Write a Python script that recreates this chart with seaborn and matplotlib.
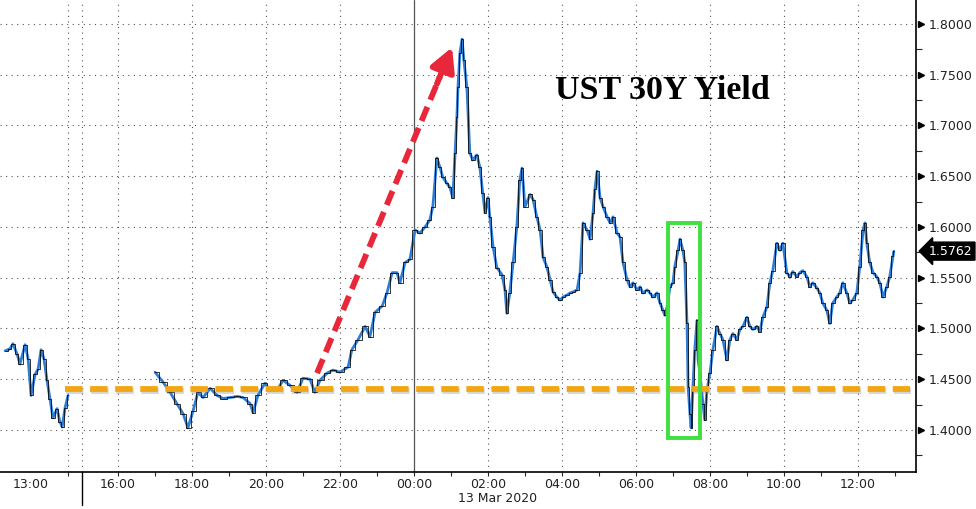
import matplotlib
matplotlib.use("Agg")
import matplotlib.pyplot as plt
import matplotlib.patheffects as pe
from matplotlib.patches import Rectangle
from matplotlib.transforms import blended_transform_factory
import seaborn as sns
import pandas as pd

# --- data ---
# first session on 12 Mar (clock hours), drawn left of the session break
pre_hours = [12.30, 12.43, 12.51, 12.62, 12.70, 12.84, 12.92, 13.00, 13.11, 13.19,
             13.27, 13.35, 13.43, 13.51, 13.59, 13.70, 13.78, 13.84, 13.92, 14.00]
pre_yield = [1.478, 1.480, 1.485, 1.475, 1.465, 1.484, 1.470, 1.434, 1.455, 1.460,
             1.479, 1.470, 1.449, 1.431, 1.412, 1.421, 1.408, 1.403, 1.422, 1.434]

# main session, hours from 00:00 12 Mar (24 = midnight 13 Mar)
main_hours = [17.00, 17.22, 17.41, 17.59, 17.76, 17.89, 18.03, 18.16, 18.30, 18.49,
              18.68, 18.84, 19.03, 19.22, 19.38, 19.57, 19.65, 19.78, 19.97, 20.11,
              20.30, 20.46, 20.65, 20.84, 21.00, 21.19, 21.32, 21.46, 21.65, 21.81,
              22.00, 22.22, 22.32, 22.49, 22.68, 22.81, 22.95, 23.14, 23.27, 23.41,
              23.54, 23.62, 23.76, 23.89, 24.03, 24.16, 24.30, 24.43, 24.51, 24.62,
              24.70, 24.78, 24.89, 24.97, 25.05, 25.11, 25.16, 25.19, 25.24, 25.30,
              25.35, 25.43, 25.51, 25.59, 25.70, 25.78, 25.86, 25.92, 26.00, 26.05,
              26.14, 26.24, 26.38, 26.46, 26.51, 26.59, 26.68, 26.78, 26.86, 26.92,
              27.00, 27.14, 27.22, 27.32, 27.41, 27.49, 27.59, 27.68, 27.76, 27.86,
              27.95, 28.03, 28.14, 28.22, 28.30, 28.41, 28.49, 28.57, 28.68, 28.76,
              28.84, 28.89, 28.95, 29.03, 29.11, 29.22, 29.30, 29.38, 29.49, 29.57,
              29.65, 29.76, 29.84, 29.92, 30.03, 30.11, 30.19, 30.30, 30.38, 30.46,
              30.57, 30.65, 30.73, 30.78, 30.84, 30.92, 31.00, 31.05, 31.14, 31.19,
              31.27, 31.32, 31.38, 31.41, 31.46, 31.49, 31.54, 31.59, 31.65, 31.68,
              31.73, 31.81, 31.86, 31.92, 32.00, 32.08, 32.19, 32.27, 32.35, 32.46,
              32.54, 32.62, 32.73, 32.81, 32.89, 33.00, 33.08, 33.16, 33.27, 33.35,
              33.43, 33.54, 33.62, 33.70, 33.81, 33.89, 33.97, 34.08, 34.16, 34.24,
              34.35, 34.43, 34.51, 34.62, 34.70, 34.78, 34.89, 34.97, 35.05, 35.16,
              35.24, 35.32, 35.43, 35.51, 35.59, 35.70, 35.78, 35.86, 35.97, 36.05,
              36.14, 36.19, 36.24, 36.32, 36.41, 36.51, 36.59, 36.68, 36.78, 36.86,
              36.95, 36.97]
main_yield = [1.457, 1.447, 1.437, 1.426, 1.416, 1.402, 1.419, 1.437, 1.432, 1.441,
              1.434, 1.431, 1.432, 1.433, 1.432, 1.426, 1.417, 1.434, 1.446, 1.439,
              1.439, 1.449, 1.444, 1.437, 1.451, 1.450, 1.437, 1.449, 1.456, 1.459,
              1.457, 1.462, 1.479, 1.489, 1.502, 1.492, 1.516, 1.522, 1.535, 1.555,
              1.555, 1.545, 1.565, 1.568, 1.597, 1.594, 1.600, 1.607, 1.620, 1.668,
              1.659, 1.649, 1.643, 1.639, 1.629, 1.673, 1.708, 1.738, 1.771, 1.785,
              1.764, 1.738, 1.673, 1.666, 1.671, 1.659, 1.633, 1.614, 1.629, 1.610,
              1.580, 1.560, 1.553, 1.538, 1.515, 1.535, 1.565, 1.600, 1.646, 1.658,
              1.620, 1.632, 1.627, 1.610, 1.597, 1.570, 1.561, 1.548, 1.536, 1.531,
              1.528, 1.531, 1.533, 1.535, 1.536, 1.538, 1.555, 1.604, 1.597, 1.588,
              1.614, 1.637, 1.655, 1.629, 1.620, 1.610, 1.604, 1.610, 1.594, 1.590,
              1.565, 1.548, 1.541, 1.545, 1.538, 1.541, 1.535, 1.538, 1.535, 1.531,
              1.535, 1.525, 1.518, 1.513, 1.521, 1.541, 1.545, 1.561, 1.577, 1.588,
              1.577, 1.565, 1.505, 1.442, 1.416, 1.402, 1.442, 1.479, 1.508, 1.469,
              1.456, 1.426, 1.410, 1.439, 1.456, 1.479, 1.502, 1.495, 1.489, 1.469,
              1.489, 1.495, 1.489, 1.499, 1.502, 1.511, 1.502, 1.499, 1.502, 1.497,
              1.511, 1.521, 1.545, 1.557, 1.584, 1.577, 1.584, 1.555, 1.551, 1.556,
              1.551, 1.555, 1.557, 1.551, 1.541, 1.545, 1.540, 1.535, 1.525, 1.518,
              1.505, 1.525, 1.531, 1.535, 1.545, 1.535, 1.525, 1.528, 1.535, 1.561,
              1.597, 1.604, 1.584, 1.565, 1.555, 1.551, 1.545, 1.531, 1.541, 1.551,
              1.571, 1.576]

last_price = 1.5762
support_level = 1.4405

x_ticks = [13.65, 16, 18, 20, 22, 24, 26, 28, 30, 32, 34, 36]
x_labels = ['13:00', '16:00', '18:00', '20:00', '22:00', '00:00', '02:00',
            '04:00', '06:00', '08:00', '10:00', '12:00']
y_ticks = [1.40, 1.45, 1.50, 1.55, 1.60, 1.65, 1.70, 1.75, 1.80]

PRE_SHIFT = 0.65      # the early session is squeezed up against the break
SESSION_BREAK = 15.03

blue = '#2f7dd3'
red = '#e8283a'

sns.set_style("white")
plt.rcParams['font.family'] = ['DejaVu Sans']

fig = plt.figure(figsize=(9.76, 5.09), dpi=100)
ax = fig.add_axes([0, 37 / 509, 916 / 976, 472 / 509])

pre_df = pd.DataFrame({'pos': [h + PRE_SHIFT for h in pre_hours], 'yld': pre_yield})
main_df = pd.DataFrame({'pos': main_hours, 'yld': main_yield})

# dotted grid
grid_x = [14.65, SESSION_BREAK, 16, 18, 20, 22, 26, 28, 30, 32, 34, 36]
for gx in grid_x:
    ax.axvline(gx, color='#555555', lw=0.8, ls=(0, (1, 4)), zorder=0)
for gy in y_ticks:
    ax.axhline(gy, color='#555555', lw=0.8, ls=(0, (1, 4)), zorder=0)
ax.axvline(24, color='#555555', lw=0.9, zorder=0)
ax.axvline(SESSION_BREAK, ymin=-0.07, ymax=0, color='black', lw=1, clip_on=False)

# price series: blue line plus black "candle" steps
for df in (pre_df, main_df):
    sns.lineplot(data=df, x='pos', y='yld', ax=ax, color=blue, lw=2.0,
                 estimator=None, sort=False, zorder=3)
    sns.lineplot(data=df, x='pos', y='yld', ax=ax, color='black', lw=0.55,
                 estimator=None, sort=False, drawstyle='steps-mid', zorder=4)

# orange support line
ax.plot([14.57, 37.41], [support_level, support_level], color='#f2a614', lw=4.2,
        ls=(0, (3, 1.3)), solid_capstyle='butt', zorder=5,
        path_effects=[pe.SimpleLineShadow(offset=(0.8, -1.5), shadow_color='#888888', alpha=0.35),
                      pe.Normal()])

# red dashed arrow: dashed shaft + solid head
ax.plot([21.38, 24.70], [1.456, 1.748], color=red, lw=4.2, ls=(0, (2.6, 1.3)),
        solid_capstyle='butt', zorder=6)
ax.annotate('', xy=(25.03, 1.777), xytext=(24.62, 1.741),
            arrowprops=dict(arrowstyle='-|>,head_length=1.4,head_width=0.75',
                            color=red, lw=4.2, shrinkA=0, shrinkB=0),
            zorder=6)

# green box
ax.add_patch(Rectangle((30.86, 1.392), 0.87, 0.212, fill=False, ec='#3fe03f', lw=2.8, zorder=6))

ax.text(0.606, 0.809, 'UST 30Y Yield', transform=ax.transAxes,
        fontsize=24.5, fontweight='bold', family='Liberation Serif', color='black',
        ha='left', va='center')

ax.set_xlim(12.81, 37.57)
ax.set_ylim(1.3586, 1.8236)
ax.set_xlabel('')
ax.set_ylabel('')

for side in ['left', 'top']:
    ax.spines[side].set_visible(False)
for side in ['right', 'bottom']:
    ax.spines[side].set_color('black')
    ax.spines[side].set_linewidth(1.2)

ax.yaxis.tick_right()
ax.set_yticks(y_ticks, [f'{v:.4f}' for v in y_ticks])
ax.set_yticks([v + 0.025 for v in [1.35] + y_ticks[:-1]], minor=True)
ax.tick_params(axis='y', which='major', length=0, pad=9, labelsize=9, labelcolor='#222222')
ax.tick_params(axis='y', which='minor', length=4, width=0.8, direction='out', right=True, left=False)

ax.set_xticks(x_ticks, x_labels)
ax.set_xticks([14.65, 17, 19, 21, 23, 25, 27, 29, 31, 33, 35, 37], minor=True)
ax.tick_params(axis='x', which='both', length=3, width=0.8, direction='out', bottom=True,
               pad=1.5, labelsize=9, labelcolor='#222222')
ax.xaxis.get_major_ticks()[0].tick1line.set_visible(False)

# tick triangles on the right axis
trans = blended_transform_factory(ax.transAxes, ax.transData)
ax.plot([1.005] * len(y_ticks), y_ticks, marker='>', ls='none', ms=5, color='black',
        transform=trans, clip_on=False)

# last price tag
ax.text(1.014, last_price, f'{last_price:.4f}', transform=trans, va='center', ha='left',
        color='white', fontsize=9, clip_on=False,
        bbox=dict(boxstyle='larrow,pad=0.2', fc='black', ec='black'))

fig.text(498 / 976, 1 - 499 / 509, '13 Mar 2020', ha='center', va='center',
         fontsize=9, color='#222222')

fig.savefig('out.png', dpi=100)
